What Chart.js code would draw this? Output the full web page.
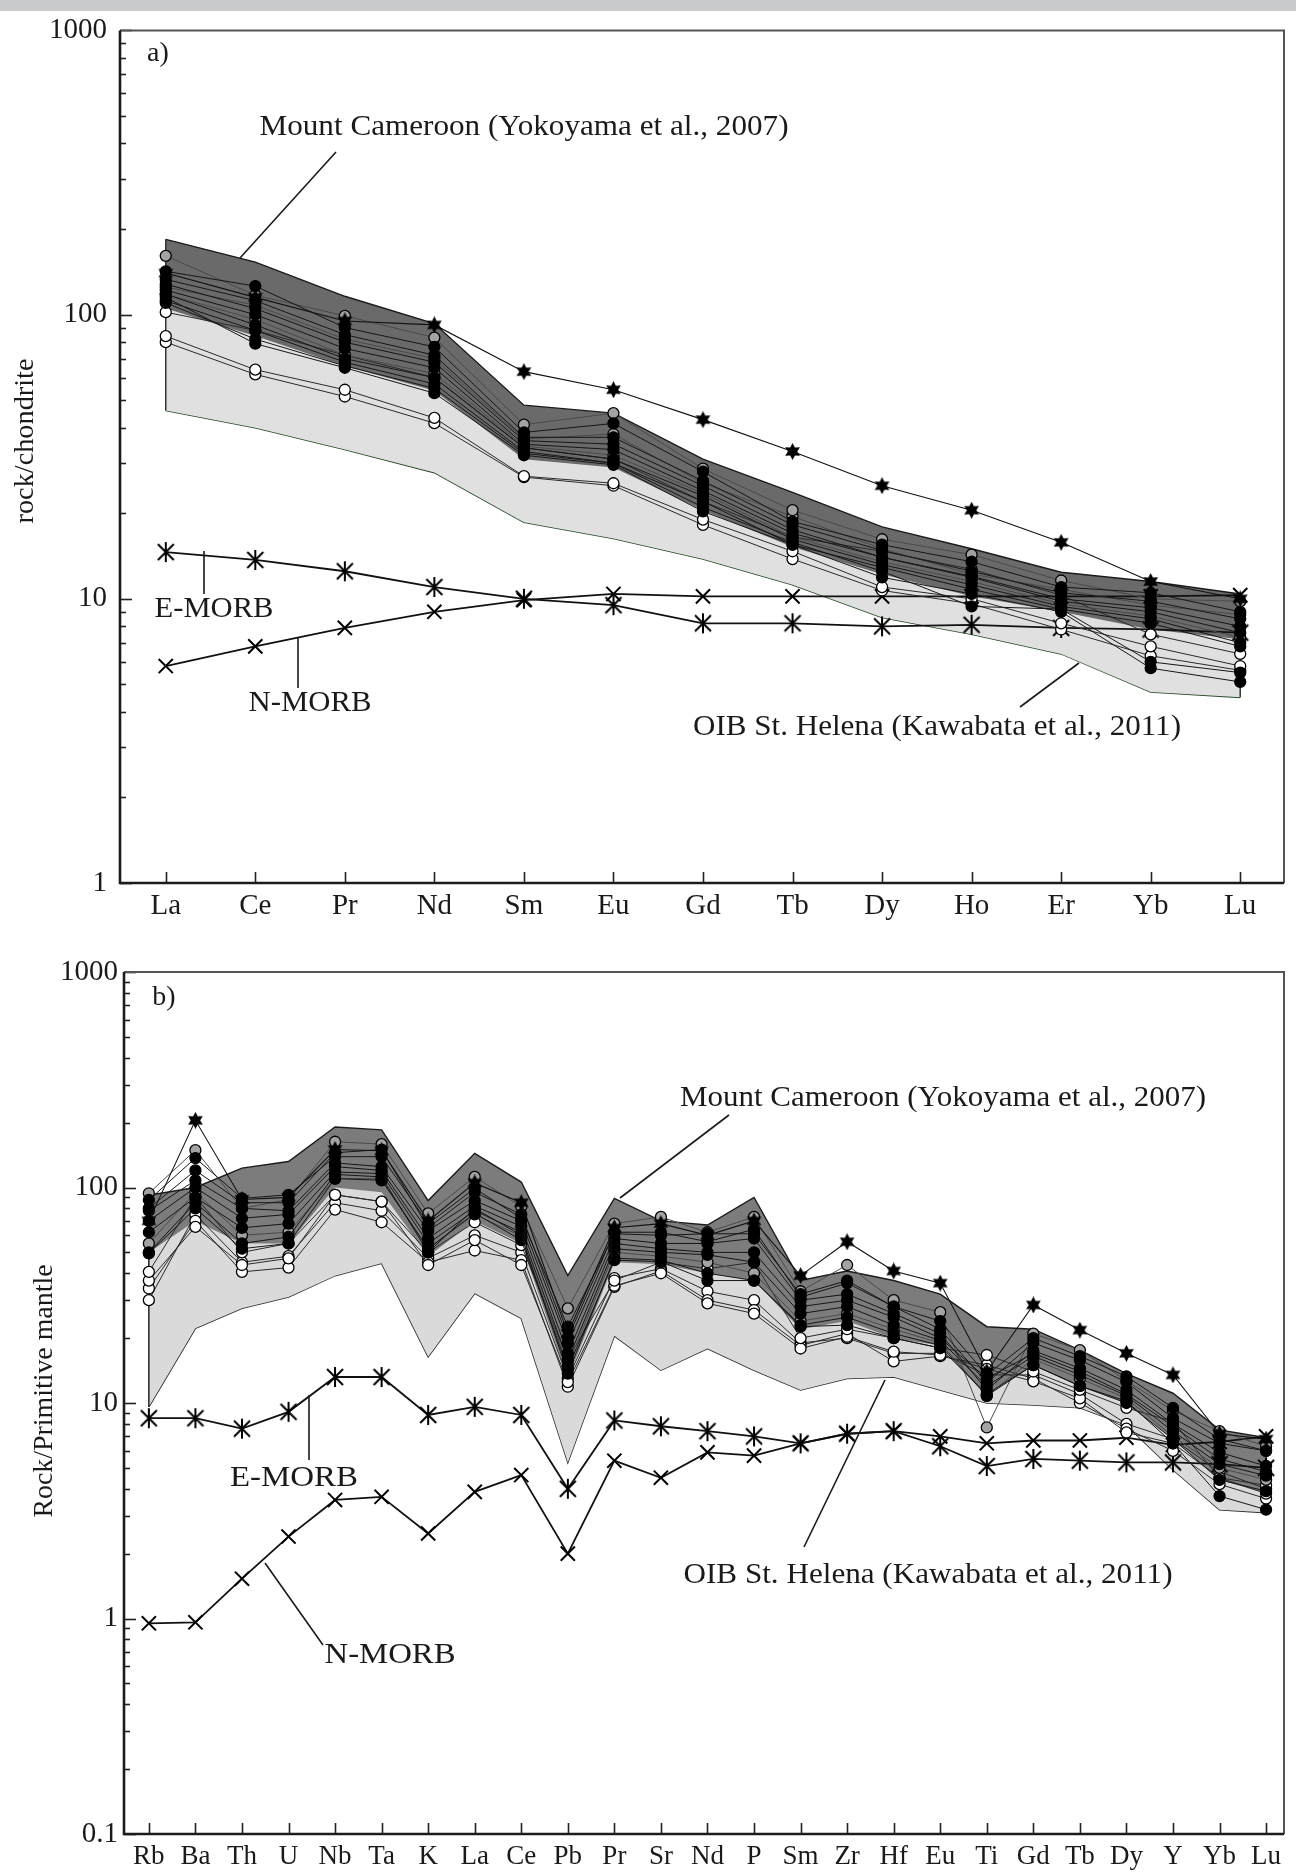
<!DOCTYPE html>
<html>
<head>
<meta charset="utf-8">
<script src="https://cdn.jsdelivr.net/npm/chart.js@4.4.1/dist/chart.umd.min.js"></script>
<style>
html, body { margin: 0; padding: 0; background: #fff; }
body { width: 1296px; height: 1872px; position: relative; overflow: hidden; }
#strip { position: absolute; left: 0; top: 0; width: 1296px; height: 11px; background: #c9cacc; }
canvas { position: absolute; left: 0; }
#chartA { top: 0; }
#chartB { top: 940px; }
</style>
</head>
<body>
<div id="strip"></div>
<canvas id="chartA" width="1296" height="940"></canvas>
<canvas id="chartB" width="1296" height="932"></canvas>
<script>
const FONT = '"Liberation Serif", "Times New Roman", serif';

// ---------- a) chondrite normalised REE ----------
const reeElements = ['La', 'Ce', 'Pr', 'Nd', 'Sm', 'Eu', 'Gd', 'Tb', 'Dy', 'Ho', 'Er', 'Yb', 'Lu'];
const decadesA = [1, 10, 100, 1000];

const cameroonTopA  = [184, 153, 116, 93, 48, 45, 31, 23.7, 17.9, 15, 12.4, 11.5, 10.4];
const cameroonBaseA = [105, 84, 66, 54, 31, 29, 20.5, 15.2, 12.2, 10.2, 9, 7.8, 7.2];
const helenaTopA    = [150, 125, 95, 78, 42, 40, 27, 20, 15.5, 13, 11, 10, 9.2];
const helenaBaseA   = [46, 40, 33.5, 27.8, 18.6, 16.3, 13.8, 11.2, 8.6, 7.5, 6.4, 4.7, 4.5];

const eMorbA = [14.6, 13.7, 12.5, 11.0, 10.0, 9.5, 8.2, 8.2, 8.0, 8.1, 7.9, 7.8, 7.6];
const nMorbA = [5.8, 6.8, 7.9, 9.0, 9.9, 10.4, 10.2, 10.2, 10.2, 10.2, 10.2, 10.2, 10.3];

const starA = [140, 115, 95, 92, 63, 54.4, 42.7, 33, 25, 20.5, 15.8, 11.5, 10.0];
const grayA = [
  [161, 117, 99, 83, 41, 45, 28.7, 20.5, 16.2, 14.3, 11.6, 10, 9.8],
  [118, 96, 72, 62, 34.5, 32, 23.5, 16.5, 13.5, 11.5, 9.6, 8.7, 7.3],
  [125, 108, 82, 70, 36.5, 38, 25.5, 19.5, 15, 12.2, 10.8, 9.5, 8.8]
];
const blackA = [
  [142, 126, 90, 77, 38.5, 41.4, 28, 18.7, 15.5, 13.5, 11, 10.5, 9.0],
  [133, 112, 85, 72, 37, 37, 26, 18.2, 14.8, 12.5, 10.5, 9.8, 8.5],
  [128, 105, 80, 68, 36, 35, 25, 17.5, 14, 12, 10, 9.3, 8.0],
  [122, 100, 76, 65, 35, 33.5, 24, 17, 14, 11.9, 9.8, 9.0, 7.6],
  [118, 92, 70, 60, 34, 31, 23, 16.2, 13.2, 11.2, 9.4, 8.5, 7.0],
  [112, 88, 68, 57, 33, 30, 22, 15.5, 12.9, 10.8, 9.2, 8.2, 6.8],
  [115, 79, 65, 52.9, 32, 29.6, 20.3, 15.5, 11.9, 10.4, 9.0, 5.7, 5.1],
  [110, 82, 66, 55, 32.5, 30, 21, 15.8, 12.5, 9.4, 9.2, 6.0, 5.5]
];
const openA = [
  [102, 88, 72, 60, 34, 31, 22, 16.5, 14.7, 12.7, 10.3, 7.5, 6.4],
  [84, 64, 54.4, 43.3, 27, 25.5, 19, 14.7, 11, 10, 8.2, 6.8, 5.8],
  [80, 61.6, 51.5, 41.5, 26.8, 25, 18.2, 13.8, 10.7, 9.6, 7.8, 6.3, 5.6]
];

// ---------- b) primitive mantle normalised spider ----------
const spiderElements = ['Rb', 'Ba', 'Th', 'U', 'Nb', 'Ta', 'K', 'La', 'Ce', 'Pb', 'Pr', 'Sr', 'Nd',
  'P', 'Sm', 'Zr', 'Hf', 'Eu', 'Ti', 'Gd', 'Tb', 'Dy', 'Y', 'Yb', 'Lu'];
const decadesB = [0.1, 1, 10, 100, 1000];

const cameroonTopB  = [92, 100, 123, 132, 191, 185, 87, 144, 106, 39, 89, 70, 67, 90, 37, 41, 37, 32, 22.6, 22, 17.6, 13.7, 11.1, 7.5, 6.9];
const cameroonBaseB = [50, 70, 55, 55, 100, 95, 48, 70, 55, 13, 45, 44, 40, 37, 22, 24, 20, 18.5, 11, 15, 12, 10, 6.8, 4.4, 3.8];
const helenaTopB    = [85, 95, 100, 110, 170, 165, 80, 125, 95, 30, 80, 65, 62, 80, 34, 38, 34, 30, 20, 20, 16, 12.5, 10, 7, 6.5];
const helenaBaseB   = [9.6, 22.2, 27.5, 31, 39, 44.5, 16.4, 32.3, 24.7, 5.3, 20.5, 14.2, 17.9, 14.2, 11.5, 13, 13.2, 11.5, 10, 9.8, 9.5, 7.9, 4.9, 3.2, 3.1];

const eMorbB = [8.5, 8.5, 7.6, 9.1, 13.2, 13.2, 8.8, 9.6, 8.8, 4.0, 8.3, 7.8, 7.4, 7.0, 6.5, 7.2, 7.4, 6.3, 5.1, 5.5, 5.4, 5.3, 5.3, 5.2, 5.0];
const nMorbB = [0.95, 0.96, 1.53, 2.4, 3.55, 3.67, 2.48, 3.87, 4.63, 2.0, 5.4, 4.5, 5.9, 5.7, 6.5, 7.2, 7.4, 7.0, 6.5, 6.7, 6.7, 6.9, 6.4, 6.6, 7.0];

const starB = [70, 205, 88, 90, 150, 148, 70, 105, 85, 21, 65, 68, 60, 70, 39, 56, 41, 36, 14, 28.5, 21.8, 17, 13.5, 7.2, 6.8];
const grayB = [
  [94, 149, 80, 88, 163, 159, 75.8, 112, 81.5, 27.5, 68, 73, 62, 73, 33, 43.7, 30, 26.4, 7.7, 21, 17.6, 12.7, 9.2, 7.4, 6.3],
  [55, 95, 60, 62, 110, 110, 52, 75, 59.5, 15, 50, 48, 45, 40, 24, 26, 22, 19, 10.8, 16, 13, 10.5, 7.0, 5.0, 4.4]
];
const blackB = [
  [87.5, 137, 89, 92.5, 139, 139, 68, 99, 72, 22.6, 61, 60, 61, 61, 32, 37, 28, 22, 12.4, 19, 15.8, 12.5, 8.5, 6.5, 6.0],
  [78, 108, 80, 78, 130, 125, 63, 87, 70, 18.9, 58, 55, 55, 58, 30, 32, 26, 21, 11.5, 17.5, 14.5, 11.5, 8.0, 5.9, 5.1],
  [70, 100, 72, 75, 125, 120, 58, 82, 66, 17, 55, 52, 50, 50, 28, 30, 25, 20, 13, 17, 14, 11, 7.8, 5.5, 4.8],
  [62, 90, 65, 68, 118, 116, 55, 78, 62, 15.8, 52, 50, 48.7, 45, 26, 28, 23, 19.5, 12, 16.5, 13.5, 10.8, 7.4, 5.2, 4.6],
  [50, 85, 55, 59, 115, 112, 50, 80, 60, 13.7, 47, 46, 40, 37, 23, 25, 21, 18.5, 10.8, 15, 12, 10, 6.8, 4.4, 3.9],
  [49.5, 80, 52, 55, 110, 108, 52, 76, 57, 14.5, 46, 45.3, 37, 37, 22.6, 23, 20, 18, 11, 15, 12, 10.2, 6.5, 3.7, 3.2],
  [80, 120, 85, 85, 145, 150, 65, 95, 75, 20, 62, 62, 56, 64, 31, 36, 28, 24, 13.5, 20, 16.5, 13.3, 9.5, 6.8, 6.0]
];
const openB = [
  [40.6, 90.6, 50, 55, 92.5, 86, 50, 69, 54, 16, 37, 45, 42, 45, 20, 22, 20, 18, 16.7, 14, 11.5, 9.5, 8.2, 4.5, 4.15],
  [37, 65.7, 43.7, 46.9, 92.5, 86, 43.7, 57, 43.7, 12.5, 35, 40, 29, 26, 17.9, 20.3, 17.3, 16.7, 14.4, 12.6, 10.5, 7.3, 6.5, 4.5, 3.8],
  [34, 70, 40.6, 42.5, 79, 69, 45, 51, 46, 11.9, 34.6, 41, 30, 27, 18.5, 21, 15.6, 16.5, 15, 13, 10, 7.6, 6.0, 4.2, 3.6],
  [30, 75, 45, 48, 85, 78, 47, 60, 50, 13, 38, 42, 33, 30, 19, 20, 17, 17, 13.5, 13.5, 11, 8, 6.8, 4.8, 4.0]
];

// ---------- helpers ----------
function pts(arr) { return arr.map((v, i) => ({ x: i, y: v })); }

function logTicks(majors) {
  const out = [];
  majors.forEach((m, i) => {
    out.push(m);
    if (i < majors.length - 1) for (let k = 2; k <= 9; k++) out.push(+(m * k).toPrecision(3));
  });
  return out;
}

function starImage(size) {
  const c = document.createElement('canvas');
  c.width = c.height = size;
  const g = c.getContext('2d');
  const r = size / 2;
  g.fillStyle = '#000';
  g.beginPath();
  for (let k = 0; k < 12; k++) {
    const a = -Math.PI / 2 + k * Math.PI / 6;
    const rr = k % 2 ? r * 0.55 : r;
    g.lineTo(r + rr * Math.cos(a), r + rr * Math.sin(a));
  }
  g.closePath();
  g.fill();
  return c;
}

// six-armed asterisk: an X with a vertical stroke through it
function asteriskImage(size) {
  const c = document.createElement('canvas');
  c.width = c.height = size;
  const g = c.getContext('2d');
  const r = size / 2 - 1;
  g.strokeStyle = '#000';
  g.lineWidth = 2;
  g.beginPath();
  g.moveTo(size / 2, 1); g.lineTo(size / 2, size - 1);
  const d = r * 0.8;
  g.moveTo(size / 2 - d, size / 2 - d); g.lineTo(size / 2 + d, size / 2 + d);
  g.moveTo(size / 2 + d, size / 2 - d); g.lineTo(size / 2 - d, size / 2 + d);
  g.stroke();
  return c;
}
const starImg = starImage(17);
const asteriskImg = asteriskImage(22);

function field(top, base, fillColor, topColor, baseColor, order) {
  return [
    { data: pts(top), borderColor: topColor, borderWidth: 1.4, backgroundColor: fillColor,
      fill: '+1', pointRadius: 0, order },
    { data: pts(base), borderColor: baseColor, borderWidth: 1.6, pointRadius: 0, fill: false, order }
  ];
}

function sample(values, kind) {
  const look = { black: ['#000', '#161616'], open: ['#fff', '#2a2a2a'], gray: ['#a3a3a3', '#4a4a4a'] }[kind];
  return {
    data: pts(values), borderColor: look[1], borderWidth: 1, fill: false, order: 1,
    pointRadius: 5.5, pointBackgroundColor: look[0], pointBorderColor: '#000', pointBorderWidth: 1.3
  };
}

function starSample(values) {
  return { data: pts(values), borderColor: '#111', borderWidth: 1.1, fill: false, order: 0,
    pointStyle: starImg, pointRadius: 8 };
}

function morb(values, style) {
  return { data: pts(values), borderColor: '#111', borderWidth: 1.8, fill: false, order: 3,
    pointStyle: style, pointRadius: 10, pointBorderColor: '#000', pointBorderWidth: 2, pointBackgroundColor: '#000' };
}

// closes the shaded fields at both ends, right after the dark field is painted
function fieldEdges(edges, afterIndex) {
  return {
    id: 'fieldEdges',
    afterDatasetDraw(chart, args) {
      if (args.index !== afterIndex) return;
      const { ctx, scales: { x, y } } = chart;
      ctx.save();
      ctx.lineWidth = 1.5;
      edges.forEach(([top, base, color]) => {
        ctx.strokeStyle = color;
        [0, top.length - 1].forEach(i => {
          const px = x.getPixelForValue(i);
          ctx.beginPath();
          ctx.moveTo(px, y.getPixelForValue(top[i]));
          ctx.lineTo(px, y.getPixelForValue(base[i]));
          ctx.stroke();
        });
      });
      ctx.restore();
    }
  };
}

function frame(majors) {
  return {
    id: 'frameTicks',
    afterDraw(chart) {
      const { ctx, chartArea: a, scales: { x, y } } = chart;
      ctx.save();
      ctx.strokeStyle = '#222';
      ctx.lineWidth = 1.6;
      y.ticks.forEach(t => {
        const py = Math.round(y.getPixelForValue(t.value)) + 0.5;
        ctx.beginPath();
        ctx.moveTo(a.left, py);
        ctx.lineTo(a.left + (majors.includes(t.value) ? 12 : 6), py);
        ctx.stroke();
      });
      x.ticks.forEach(t => {
        const px = Math.round(x.getPixelForValue(t.value)) + 0.5;
        ctx.beginPath();
        ctx.moveTo(px, a.bottom);
        ctx.lineTo(px, a.bottom - 11);
        ctx.stroke();
      });
      ctx.strokeStyle = '#555';
      ctx.lineWidth = 2;
      ctx.beginPath();
      ctx.moveTo(a.left, a.top);
      ctx.lineTo(a.right, a.top);
      ctx.lineTo(a.right, a.bottom);
      ctx.stroke();
      ctx.strokeStyle = '#1c1c1c';
      ctx.lineWidth = 2.6;
      ctx.beginPath();
      ctx.moveTo(a.left, a.top);
      ctx.lineTo(a.left, a.bottom);
      ctx.lineTo(a.right, a.bottom);
      ctx.stroke();
      ctx.restore();
    }
  };
}

function notes(items) {
  return {
    id: 'notes',
    afterDraw(chart) {
      const ctx = chart.ctx;
      ctx.save();
      ctx.strokeStyle = '#1a1a1a';
      ctx.fillStyle = '#1a1a1a';
      ctx.lineWidth = 1.6;
      items.forEach(it => {
        if (it.line) {
          const [x1, y1, x2, y2] = it.line;
          ctx.beginPath();
          ctx.moveTo(x1, y1);
          ctx.lineTo(x2, y2);
          ctx.stroke();
          return;
        }
        ctx.font = it.size + 'px ' + FONT;
        const w = ctx.measureText(it.text).width;
        ctx.save();
        ctx.translate(it.x, it.y);
        if (it.rot) ctx.rotate(-Math.PI / 2);
        ctx.scale(it.w ? it.w / w : 1, 1);
        ctx.textAlign = 'center';
        ctx.textBaseline = 'middle';
        ctx.fillText(it.text, 0, 0);
        ctx.restore();
      });
      ctx.restore();
    }
  };
}

function makeChart(id, p) {
  const majors = p.majors;
  return new Chart(document.getElementById(id), {
    type: 'line',
    data: { datasets: p.datasets },
    options: {
      responsive: false,
      animation: false,
      devicePixelRatio: 1,
      layout: { padding: p.padding },
      elements: { line: { tension: 0 } },
      plugins: { legend: { display: false }, tooltip: { enabled: false } },
      scales: {
        x: {
          type: 'linear', min: p.xMin, max: p.xMax,
          afterFit(s) { s.height = p.xHeight; },
          afterBuildTicks(s) { s.ticks = p.labels.map((_, i) => ({ value: i })); },
          grid: { display: false, drawTicks: false },
          border: { display: false },
          ticks: {
            autoSkip: false, maxRotation: 0, minRotation: 0, padding: p.xPad, color: '#1a1a1a',
            font: { family: FONT, size: p.xFont },
            callback: v => p.labels[v] ?? ''
          }
        },
        y: {
          type: 'logarithmic', min: majors[0], max: majors[majors.length - 1],
          afterFit(s) { s.width = p.yWidth; },
          afterBuildTicks(s) { s.ticks = logTicks(majors).map(v => ({ value: v })); },
          grid: { display: false, drawTicks: false },
          border: { display: false },
          ticks: {
            autoSkip: false, padding: p.yPad, color: '#1a1a1a',
            font: { family: FONT, size: 29 },
            callback: v => majors.includes(v) ? String(v) : ''
          }
        }
      }
    },
    plugins: [fieldEdges(p.edges, p.datasets.length - 4), frame(majors), notes(p.notes)]
  });
}

// ---------- panel a ----------
const datasetsA = [
  starSample(starA),
  ...blackA.map(v => sample(v, 'black')),
  ...grayA.map(v => sample(v, 'gray')),
  ...openA.map(v => sample(v, 'open')),
  morb(eMorbA, asteriskImg),
  morb(nMorbA, 'crossRot'),
  ...field(cameroonTopA, cameroonBaseA, '#6a6a6a', '#1b1b1b', 'rgba(0,0,0,0)', 15),
  ...field(helenaTopA, helenaBaseA, '#e0e0e0', 'rgba(0,0,0,0)', '#234a23', 20)
];
makeChart('chartA', {
  labels: reeElements,
  majors: decadesA,
  datasets: datasetsA,
  edges: [[cameroonTopA, helenaBaseA, '#2a3a2a']],
  padding: { left: 0, right: 6, top: 19, bottom: 7 },
  xMin: -0.511, xMax: 12.489, xHeight: 50, xPad: 6, xFont: 29,
  yWidth: 120, yPad: 13,
  notes: [
    { text: 'rock/chondrite', x: 26, y: 441, w: 165, size: 27, rot: true },
    { text: 'a)', x: 158, y: 54, size: 28 },
    { text: 'Mount Cameroon (Yokoyama et al., 2007)', x: 524, y: 127, w: 529, size: 30 },
    { line: [336, 152, 240, 258] },
    { text: 'E-MORB', x: 214, y: 609, w: 119, size: 30 },
    { line: [204, 551, 204, 594] },
    { text: 'N-MORB', x: 310, y: 703, w: 123, size: 30 },
    { line: [298, 637, 298, 688] },
    { text: 'OIB St. Helena (Kawabata et al., 2011)', x: 937, y: 727, w: 488, size: 30 },
    { line: [1020, 707, 1079, 663] }
  ]
});

// ---------- panel b ----------
const datasetsB = [
  starSample(starB),
  ...blackB.map(v => sample(v, 'black')),
  ...grayB.map(v => sample(v, 'gray')),
  ...openB.map(v => sample(v, 'open')),
  morb(eMorbB, asteriskImg),
  morb(nMorbB, 'crossRot'),
  ...field(cameroonTopB, cameroonBaseB, '#7c7c7c', '#1b1b1b', 'rgba(0,0,0,0)', 15),
  ...field(helenaTopB, helenaBaseB, '#dadada', 'rgba(0,0,0,0)', '#2a2a2a', 20)
];
makeChart('chartB', {
  labels: spiderElements,
  majors: decadesB,
  datasets: datasetsB,
  edges: [[cameroonTopB, helenaBaseB, '#222']],
  padding: { left: 0, right: 6, top: 32, bottom: 0 },
  xMin: -0.534, xMax: 24.385, xHeight: 38, xPad: 7, xFont: 27,
  yWidth: 124, yPad: 6,
  notes: [
    { text: 'Rock/Primitive mantle', x: 45, y: 451, w: 253, size: 27, rot: true },
    { text: 'b)', x: 164, y: 58, size: 28 },
    { text: 'Mount Cameroon (Yokoyama et al., 2007)', x: 943, y: 158, w: 526, size: 30 },
    { line: [729, 175, 620, 258] },
    { text: 'E-MORB', x: 294, y: 538, w: 128, size: 30 },
    { line: [309, 455, 309, 520] },
    { text: 'N-MORB', x: 390, y: 715, w: 131, size: 30 },
    { line: [265, 623, 323, 705] },
    { text: 'OIB St. Helena (Kawabata et al., 2011)', x: 928, y: 635, w: 489, size: 30 },
    { line: [804, 607, 885, 440] }
  ]
});
</script>
</body>
</html>
